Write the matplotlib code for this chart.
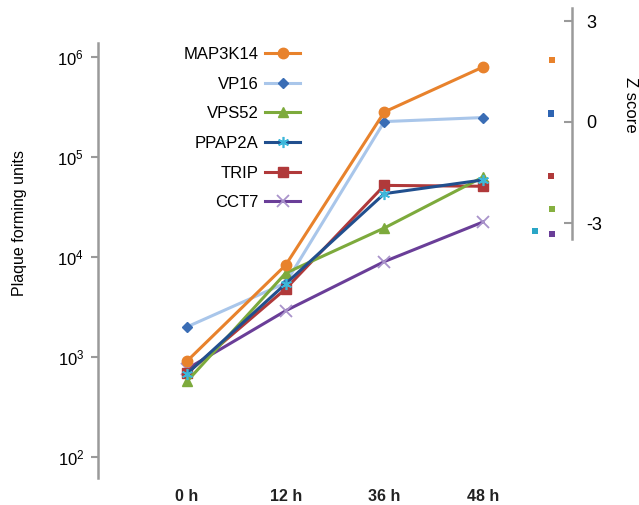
import matplotlib
matplotlib.use("Agg")
import matplotlib.pyplot as plt
import numpy as np

plt.rcParams['font.family'] = ['Liberation Sans', 'DejaVu Sans']
plt.rcParams['mathtext.fontset'] = 'custom'
plt.rcParams['mathtext.rm'] = 'Liberation Sans'
plt.rcParams['mathtext.it'] = 'Liberation Sans:italic'
plt.rcParams['mathtext.bf'] = 'Liberation Sans:bold'

# ---- data ----
timepoints = ["0 h", "12 h", "36 h", "48 h"]
genes = ["MAP3K14", "VP16", "VPS52", "PPAP2A", "TRIP", "CCT7"]
map3k14 = [910, 8300, 282000, 794000]
vp16 = [2000, 5500, 226000, 248000]
vps52 = [570, 6900, 19500, 63000]
ppap2a = [680, 5400, 43000, 59000]
trip = [690, 4800, 52000, 51000]
cct7 = [760, 2900, 9000, 22400]

z_genes = ["MAP3K14", "VP16", "TRIP", "VPS52", "PPAP2A", "CCT7"]
z_scores = [1.84, 0.25, -1.60, -2.58, -3.24, -3.33]

# ---- styles ----
W, H = 639, 505
fig = plt.figure(figsize=(W / 100, H / 100), dpi=100)

def fx(px):
    return px / W

def fy(py):
    return 1 - py / H

# main axes: spine at x=98, y from 43 to 478 px
ax_l, ax_r, ax_t, ax_b = 98, 520, 43, 478
ax = fig.add_axes([fx(ax_l), fy(ax_b), fx(ax_r) - fx(ax_l), fy(ax_t) - fy(ax_b)])
ax.set_yscale('log')
ppd = 100.0  # pixels per decade
ax.set_ylim(10 ** (2 - (ax_b - 457) / ppd), 10 ** (6 + (57 - ax_t) / ppd))
sp = 98.67
ax.set_xlim(-(187 - ax_l) / sp, 3 + (ax_r - 483) / sp)

styles = {
    "MAP3K14": dict(color="#E8822C", marker="o", ms=7.5, mfc="#E8822C", mec="#E8822C"),
    "VP16": dict(color="#A9C6EA", marker="D", ms=5.5, mfc="#3A6DB5", mec="#3A6DB5"),
    "VPS52": dict(color="#7DAA3C", marker="^", ms=7.5, mfc="#7DAA3C", mec="#7DAA3C"),
    "PPAP2A": dict(color="#214F8E", marker=(6, 2, 0), ms=8, mfc="#3DB7DA", mec="#3DB7DA", mew=1.2),
    "TRIP": dict(color="#B0393A", marker="s", ms=7, mfc="#B0393A", mec="#B0393A"),
    "CCT7": dict(color="#6A3E98", marker="x", ms=8, mfc="#A993CB", mec="#A993CB", mew=1.3),
}
series = {"MAP3K14": map3k14, "VP16": vp16, "VPS52": vps52,
          "PPAP2A": ppap2a, "TRIP": trip, "CCT7": cct7}
zorders = {"MAP3K14": 8, "VP16": 3, "VPS52": 5, "PPAP2A": 6, "TRIP": 4, "CCT7": 2}

x = np.arange(len(timepoints))
for g in genes:
    st = dict(styles[g])
    ax.plot(x, series[g], lw=2.2, label=g, zorder=zorders[g], **st)

for s in ["top", "right", "bottom"]:
    ax.spines[s].set_visible(False)
ax.spines["left"].set_color("#9a9a9a")
ax.spines["left"].set_linewidth(1.8)
ax.set_yticks([1e2, 1e3, 1e4, 1e5, 1e6])
ax.yaxis.set_minor_locator(matplotlib.ticker.NullLocator())
ax.tick_params(axis='y', which='major', length=5, width=1.5, color="#9a9a9a",
               labelsize=12, pad=5)
ax.set_xticks(x)
ax.set_xticklabels(timepoints, fontsize=11.5, fontweight='bold', color="#222222")
ax.tick_params(axis='x', length=0, pad=8)
ax.patch.set_alpha(0)

leg = ax.legend(loc='upper right', bbox_to_anchor=(fx(300), fy(47)),
                bbox_transform=fig.transFigure, frameon=False, markerfirst=False,
                fontsize=12, handlelength=2.1, handletextpad=0.4,
                labelspacing=0.88, borderpad=0, borderaxespad=0)

fig.text(fx(20), fy(223), "Plaque forming units", rotation=90,
         ha='center', va='center', fontsize=11.5)

# z-score axes: spine at x=572, y from 8 to 239
z_l, z_r, z_t, z_b = 520, 572, 8, 239
zax = fig.add_axes([fx(z_l), fy(z_b), fx(z_r) - fx(z_l), fy(z_t) - fy(z_b)])
ppu = (223 - 21) / 6.0
zax.set_ylim(-3 - (z_b - 223) / ppu, 3 + (21 - z_t) / ppu)
zax.set_xlim(0, 1)
z_x = [0.62, 0.60, 0.60, 0.62, 0.29, 0.62]
z_colors = ["#E8822C", "#2E64B2", "#B0393A", "#86B040", "#2AA6C6", "#6A3E98"]
zax.scatter(z_x, z_scores, marker='s', s=22, c=z_colors, edgecolors='none')
for s in ["top", "left", "bottom"]:
    zax.spines[s].set_visible(False)
zax.spines["right"].set_color("#9a9a9a")
zax.spines["right"].set_linewidth(1.8)
zax.yaxis.tick_right()
zax.set_yticks([-3, 0, 3])
zax.set_yticklabels(["-3", "0", "3"])
zax.tick_params(axis='y', direction='in', length=6, width=1.5, color="#9a9a9a",
                labelsize=13, pad=10)
zax.set_xticks([])
zax.patch.set_alpha(0)

fig.text(fx(630), fy(105), "Z score", rotation=270, ha='center', va='center',
         fontsize=12)

fig.savefig("out.png", dpi=100)
